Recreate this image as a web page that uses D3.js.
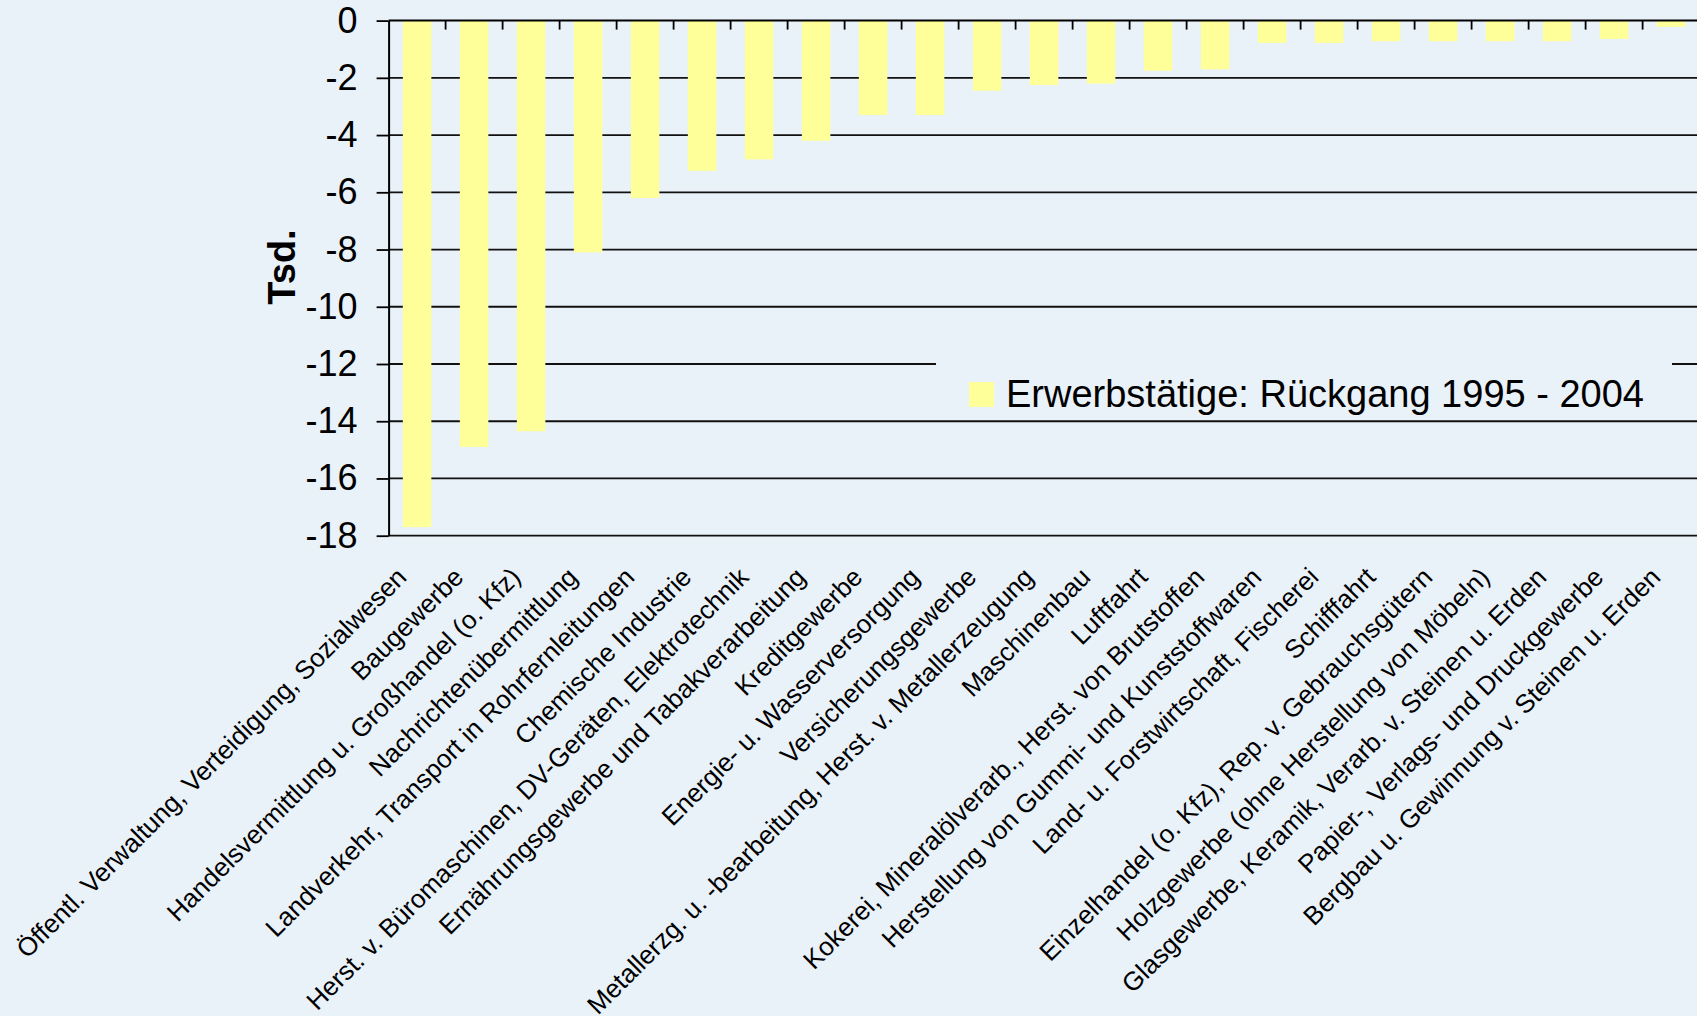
<!DOCTYPE html>
<html lang="de">
<head>
<meta charset="utf-8">
<title>Erwerbstätige: Rückgang 1995 - 2004</title>
<script src="https://cdn.jsdelivr.net/npm/d3@7/dist/d3.min.js"></script>
<style>
  html, body { margin: 0; padding: 0; background: #E9F1F9; }
  svg { display: block; }
  text { font-family: "Liberation Sans", Arial, Helvetica, sans-serif; fill: #000; }
</style>
</head>
<body>
<script>
// Wirtschaftszweige (sortiert nach Rückgang)
const categories = [
  "Öffentl. Verwaltung, Verteidigung, Sozialwesen",
  "Baugewerbe",
  "Handelsvermittlung u. Großhandel (o. Kfz)",
  "Nachrichtenübermittlung",
  "Landverkehr, Transport in Rohrfernleitungen",
  "Chemische Industrie",
  "Herst. v. Büromaschinen, DV-Geräten, Elektrotechnik",
  "Ernährungsgewerbe und Tabakverarbeitung",
  "Kreditgewerbe",
  "Energie- u. Wasserversorgung",
  "Versicherungsgewerbe",
  "Metallerzg. u. -bearbeitung, Herst. v. Metallerzeugung",
  "Maschinenbau",
  "Luftfahrt",
  "Kokerei, Mineralölverarb., Herst. von Brutstoffen",
  "Herstellung von Gummi- und Kunststoffwaren",
  "Land- u. Forstwirtschaft, Fischerei",
  "Schifffahrt",
  "Einzelhandel (o. Kfz), Rep. v. Gebrauchsgütern",
  "Holzgewerbe (ohne Herstellung von Möbeln)",
  "Glasgewerbe, Keramik, Verarb. v. Steinen u. Erden",
  "Papier-, Verlags- und Druckgewerbe",
  "Bergbau u. Gewinnung v. Steinen u. Erden"
];

// Veränderung der Erwerbstätigen 1995 - 2004 in Tsd.
const values = [
  -17.7, -14.9, -14.35, -8.1, -6.2, -5.25, -4.85, -4.2,
  -3.3, -3.3, -2.45, -2.25, -2.2, -1.75, -1.7,
  -0.78, -0.78, -0.72, -0.72, -0.72, -0.72, -0.64, -0.22
];

const seriesName = "Erwerbstätige: Rückgang 1995 - 2004";
const yTicks = [0, -2, -4, -6, -8, -10, -12, -14, -16, -18];
const yTitle = "Tsd.";

const W = 1697, H = 1016;
const plot = { left: 388.6, top: 20.6, right: 1699.6, bottom: 535.7 };

const svg = d3.select("body").append("svg")
  .attr("width", W).attr("height", H);

svg.append("rect").attr("width", W).attr("height", H).attr("fill", "#E9F1F9");

const x = d3.scaleBand()
  .domain(categories)
  .range([plot.left, plot.right])
  .paddingInner(0.5)
  .paddingOuter(0.25);

const y = d3.scaleLinear()
  .domain([-18, 0])
  .range([plot.bottom, plot.top]);

// horizontal gridlines
svg.append("g")
  .selectAll("line")
  .data(yTicks.filter(d => d !== 0))
  .join("line")
  .attr("x1", plot.left).attr("x2", W)
  .attr("y1", d => y(d)).attr("y2", d => y(d))
  .attr("stroke", "#111").attr("stroke-width", 1.8);

// bars
svg.append("g")
  .selectAll("rect")
  .data(values)
  .join("rect")
  .attr("x", (d, i) => x(categories[i]))
  .attr("width", x.bandwidth())
  .attr("y", y(0))
  .attr("height", d => y(d) - y(0))
  .attr("fill", "#FFFF99");

// value axis
const yAxis = d3.axisLeft(y)
  .tickValues(yTicks)
  .tickSize(12)
  .tickSizeOuter(0)
  .tickPadding(19)
  .tickFormat(d => d === 0 ? "0" : "-" + Math.abs(d));

const gy = svg.append("g")
  .attr("transform", `translate(${plot.left},0)`)
  .call(yAxis);
gy.select(".domain").attr("stroke", "#000").attr("stroke-width", 2);
gy.selectAll(".tick line").attr("stroke", "#000").attr("stroke-width", 1.8);
gy.selectAll(".tick text")
  .attr("font-size", 36)
  .attr("font-family", "'Liberation Sans', Arial, sans-serif")
  .attr("fill", "#000");

// category axis along the zero line
svg.append("line")
  .attr("x1", plot.left).attr("x2", W)
  .attr("y1", y(0)).attr("y2", y(0))
  .attr("stroke", "#000").attr("stroke-width", 2);

svg.append("g")
  .selectAll("line")
  .data(categories.slice(0, -1))
  .join("line")
  .attr("x1", d => x(d) + x.bandwidth() / 2 + x.step() / 2)
  .attr("x2", d => x(d) + x.bandwidth() / 2 + x.step() / 2)
  .attr("y1", y(0)).attr("y2", y(0) + 9)
  .attr("stroke", "#000").attr("stroke-width", 1.8);

// rotated category labels below the plot
svg.append("g")
  .selectAll("text")
  .data(categories)
  .join("text")
  .attr("transform", d =>
    `translate(${x(d) + x.bandwidth() / 2 - 9},${plot.bottom + 43}) rotate(-45)`)
  .attr("text-anchor", "end")
  .attr("font-size", 26)
  .text(d => d);

// axis title
svg.append("text")
  .attr("transform", `translate(295,267) rotate(-90)`)
  .attr("text-anchor", "middle")
  .attr("font-size", 38)
  .attr("font-weight", "bold")
  .text(yTitle);

// legend
const lg = svg.append("g");
lg.append("rect")
  .attr("x", 936).attr("y", 332)
  .attr("width", 736).attr("height", 82)
  .attr("fill", "#E9F1F9");
lg.append("rect")
  .attr("x", 969).attr("y", 382)
  .attr("width", 25).attr("height", 25)
  .attr("fill", "#FFFF99");
lg.append("text")
  .attr("x", 1006).attr("y", 406.7)
  .attr("font-size", 38)
  .text(seriesName);
</script>
</body>
</html>
